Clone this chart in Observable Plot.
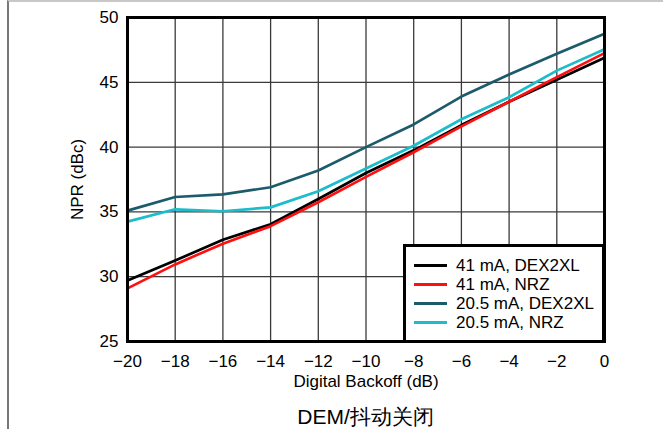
<!DOCTYPE html>
<html>
<head>
<meta charset="utf-8">
<script src="https://cdn.jsdelivr.net/npm/d3@7"></script>
<script src="https://cdn.jsdelivr.net/npm/@observablehq/plot@0.6"></script>
<style>
  html, body { margin: 0; padding: 0; background: #fff; }
  #wrap { position: relative; width: 663px; height: 429px; overflow: hidden; font-family: "Liberation Sans", Arial, sans-serif; }
  #border { position: absolute; left: 7px; top: 0; width: 670px; height: 440px; border-top: 2px solid #c8c8c8; border-left: 2px solid #777; box-sizing: border-box; pointer-events: none; }
  #chart { position: absolute; left: 0; top: 0; }
  #caption { position: absolute; left: 0; width: 663px; top: 403px; text-align: center; font-size: 21px; color: #000; padding-left: 68px; box-sizing: border-box; line-height: 28px; }
  #legend { position: absolute; left: 403px; top: 244px; width: 202px; height: 99px; border: 3px solid #000; background: #fff; box-sizing: border-box; padding-top: 9px; }
  .item { display: flex; align-items: center; height: 19px; font-size: 17px; }
  .sw { width: 33px; height: 3px; margin-left: 8px; margin-right: 9px; }
</style>
</head>
<body>
<div id="wrap">
  <div id="chart"></div>
  <div id="legend"></div>
  <div id="caption">DEM/抖动关闭</div>
  <div id="border"></div>
</div>
<script>
const backoff = [-20, -18, -16, -14, -12, -10, -8, -6, -4, -2, 0];
const seriesNames = ["41 mA, DEX2XL", "41 mA, NRZ", "20.5 mA, DEX2XL", "20.5 mA, NRZ"];
const seriesColors = ["#000000", "#ff1010", "#1c5b6b", "#1bbccb"];
const npr41Dex = [29.7, 31.25, 32.85, 34.05, 36.0, 38.0, 39.75, 41.7, 43.5, 45.2, 46.9];
const npr41Nrz = [29.1, 30.95, 32.55, 33.9, 35.75, 37.7, 39.6, 41.6, 43.5, 45.4, 47.25];
const npr205Dex = [35.1, 36.15, 36.35, 36.9, 38.2, 40.0, 41.75, 43.9, 45.6, 47.2, 48.75];
const npr205Nrz = [34.25, 35.2, 35.05, 35.35, 36.6, 38.35, 40.1, 42.15, 43.85, 45.9, 47.55];
const xTicks = [-20, -18, -16, -14, -12, -10, -8, -6, -4, -2, 0];
const yTicks = [25, 30, 35, 40, 45, 50];

const allSeries = [npr41Dex, npr41Nrz, npr205Dex, npr205Nrz];
const data = [];
allSeries.forEach((vals, i) => vals.forEach((v, j) => data.push({x: backoff[j], y: v, s: seriesNames[i]})));

const chart = Plot.plot({
  width: 663,
  height: 395,
  marginLeft: 127,
  marginRight: 59,
  marginTop: 17,
  marginBottom: 54,
  style: {fontFamily: "'Liberation Sans', Arial, sans-serif", fontSize: "17px", color: "#000", background: "transparent"},
  x: {domain: [-20, 0]},
  y: {domain: [25, 50]},
  color: {domain: seriesNames, range: seriesColors},
  marks: [
    Plot.ruleX(xTicks.slice(1, -1), {stroke: "#3a3a3a", strokeWidth: 1.3}),
    Plot.ruleY(yTicks.slice(1, -1), {stroke: "#3a3a3a", strokeWidth: 1.3}),
    Plot.line(data, {x: "x", y: "y", z: "s", stroke: "s", strokeWidth: 2.7}),
    Plot.frame({stroke: "#000", strokeWidth: 3}),
    Plot.axisX({ticks: xTicks, tickSize: 0, tickPadding: 13, fontSize: 17, label: "Digital Backoff (dB)", labelAnchor: "center", labelOffset: 45, labelArrow: "none"}),
    Plot.axisY({ticks: yTicks, tickSize: 0, tickPadding: 9, fontSize: 17, label: "NPR (dBc)", labelAnchor: "center", labelOffset: 57, labelArrow: "none"})
  ]
});
document.getElementById("chart").appendChild(chart);

const legend = document.getElementById("legend");
seriesNames.forEach((name, i) => {
  const row = document.createElement("div");
  row.className = "item";
  const sw = document.createElement("div");
  sw.className = "sw";
  sw.style.background = seriesColors[i];
  const t = document.createElement("span");
  t.textContent = name;
  row.appendChild(sw);
  row.appendChild(t);
  legend.appendChild(row);
});
</script>
</body>
</html>
